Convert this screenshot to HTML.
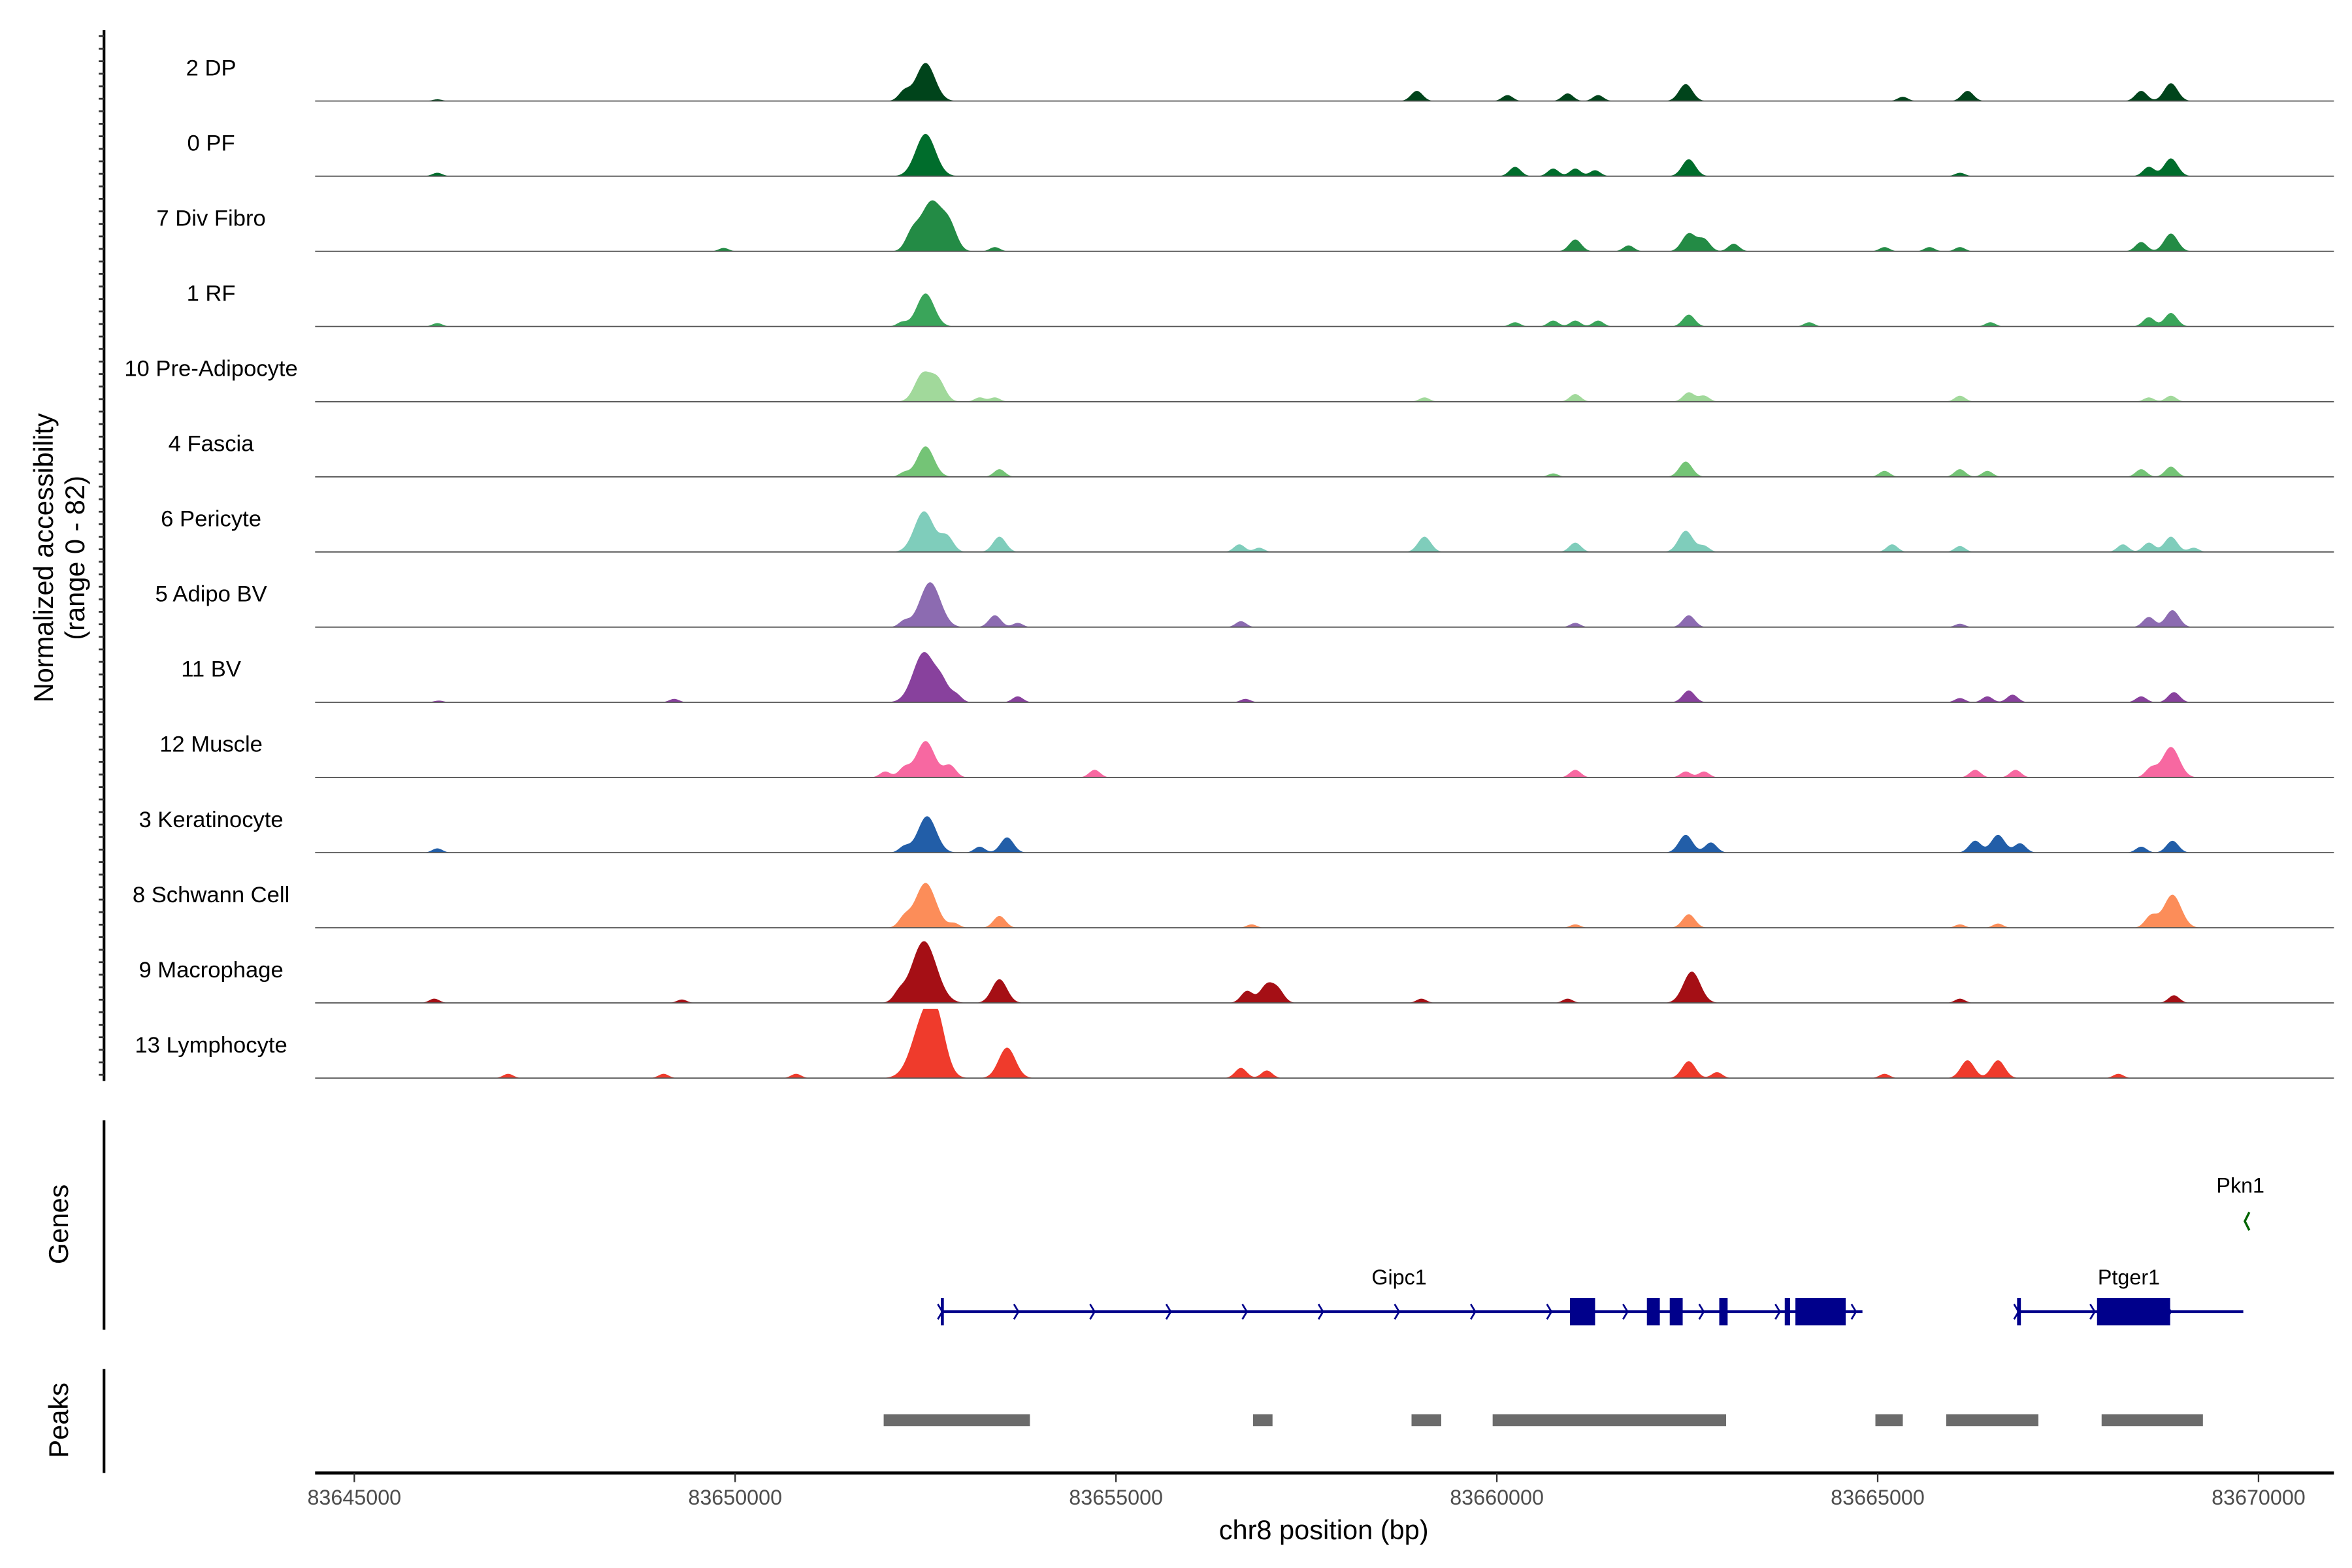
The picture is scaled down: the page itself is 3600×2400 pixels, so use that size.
<!DOCTYPE html>
<html><head><meta charset="utf-8"><style>
html,body{margin:0;padding:0;background:#fff;overflow:hidden}
svg{display:block;font-family:"Liberation Sans",Arial,sans-serif}
</style></head><body>
<svg id="chart" width="3600" height="2400" viewBox="0 0 1560 1040" xmlns="http://www.w3.org/2000/svg">
<rect width="1560" height="1040" fill="#fff"/>
<g id="tracks"></g>
<g id="genes"></g>
<g id="peaks"></g>
<g id="axes"></g>
</svg>
<script>
const trackNames = ["2 DP","0 PF","7 Div Fibro","1 RF","10 Pre-Adipocyte","4 Fascia","6 Pericyte","5 Adipo BV","11 BV","12 Muscle","3 Keratinocyte","8 Schwann Cell","9 Macrophage","13 Lymphocyte"];
const trackColors = ["#00441b","#006d2c","#238b45","#3aa55a","#a1d99b","#74c476","#7fcdbb","#8c6bb1","#88419d","#f768a1","#225ea8","#fc8d59","#a50f15","#ef3b2c"];
const pos0 = [83646.09,83652.22,83652.50,83658.95,83660.14,83660.93,83661.33,83662.48,83665.33,83666.18,83668.46,83668.85];
const val0 = [2,11,45,12,7,9,7,20,5,12,12,21];
const pos1 = [83646.09,83652.50,83660.24,83660.74,83661.03,83661.29,83662.52,83666.08,83668.56,83668.85];
const val1 = [4,50,11,9,9,7,20,4,11,21];
const pos2 = [83649.85,83652.32,83652.58,83652.82,83653.41,83661.03,83661.73,83662.52,83662.72,83663.11,83665.09,83665.68,83666.08,83668.46,83668.85];
const val2 = [4,18,59,25,5,14,7,21,14,9,5,5,5,11,21];
const pos3 = [83646.09,83652.19,83652.50,83660.24,83660.74,83661.03,83661.33,83662.52,83664.10,83666.48,83668.56,83668.85];
const val3 = [4,5,39,5,7,7,7,14,5,5,11,16];
const pos4 = [83652.46,83652.66,83653.21,83653.41,83659.05,83661.03,83662.52,83662.72,83666.08,83668.56,83668.85];
const val4 = [32,25,5,5,5,9,11,7,7,5,7];
const pos5 = [83652.22,83652.50,83653.47,83660.74,83662.48,83665.09,83666.08,83666.44,83668.46,83668.85];
const val5 = [5,36,9,4,18,7,9,7,9,12];
const pos6 = [83652.48,83652.78,83653.47,83656.62,83656.88,83659.05,83661.03,83662.48,83662.72,83665.19,83666.08,83668.22,83668.56,83668.85,83669.15];
const val6 = [48,18,18,9,5,18,11,25,7,9,7,9,11,18,5];
const pos7 = [83652.22,83652.56,83653.41,83653.71,83656.64,83661.03,83662.52,83666.08,83668.56,83668.87];
const val7 = [7,53,14,5,7,5,14,4,12,20];
const pos8 = [83646.11,83649.20,83652.48,83652.72,83652.90,83653.71,83656.70,83662.52,83666.08,83666.44,83666.77,83668.46,83668.89];
const val8 = [2,4,59,18,9,7,4,14,5,7,9,7,12];
const pos9 = [83651.97,83652.22,83652.50,83652.82,83654.72,83661.03,83662.48,83662.72,83666.28,83666.81,83668.59,83668.85];
const val9 = [7,11,43,14,9,9,7,7,9,9,11,36];
const pos10 = [83646.09,83652.22,83652.52,83653.21,83653.57,83662.48,83662.81,83666.28,83666.58,83666.87,83668.46,83668.87];
const val10 = [5,7,43,7,18,21,12,14,21,11,7,14];
const pos11 = [83652.22,83652.50,83652.88,83653.47,83656.78,83661.03,83662.52,83666.08,83666.58,83668.59,83668.87];
const val11 = [11,53,5,14,4,4,16,4,5,14,39];
const pos12 = [83646.05,83649.30,83652.15,83652.48,83653.47,83656.72,83656.98,83657.13,83659.01,83660.93,83662.56,83666.08,83668.89];
const val12 = [5,4,9,73,28,14,21,14,5,5,37,5,9];
const pos13 = [83647.02,83649.06,83650.80,83652.50,83652.66,83653.57,83656.64,83656.98,83662.52,83662.89,83665.09,83666.18,83666.58,83668.16];
const val13 = [5,5,5,75,36,36,12,9,20,7,5,21,21,5];
const trackPos = [pos0,pos1,pos2,pos3,pos4,pos5,pos6,pos7,pos8,pos9,pos10,pos11,pos12,pos13];
const trackVal = [val0,val1,val2,val3,val4,val5,val6,val7,val8,val9,val10,val11,val12,val13];

const xTicks = [83645000,83650000,83655000,83660000,83665000,83670000];
const xTickLabels = ["83645000","83650000","83655000","83660000","83665000","83670000"];

const peakStarts = [83651950,83656800,83658880,83659945,83664970,83665900,83667940];
const peakEnds   = [83653870,83657055,83659270,83663010,83665330,83667110,83669270];

const geneNames = ["Gipc1","Ptger1"];
const geneStarts = [83652700,83666830];
const geneEnds = [83664800,83669800];
const exonStarts = [83652700,83660960,83661970,83662270,83662920,83663780,83663920,83666830,83667880];
const exonEnds   = [83652740,83661290,83662140,83662440,83663030,83663850,83664580,83666880,83668840];
const pknPos = 83669840;

const NS = "http://www.w3.org/2000/svg";
function mk(tag, attrs, parent){const e=document.createElementNS(NS,tag);for(const k in attrs)e.setAttribute(k,attrs[k]);parent.appendChild(e);return e;}
const X0=209, X1=1548;
function xs(bp){return 235 + (bp-83645000)*(1498-235)/25000;}
function ysc(v){return Math.min(v,82)*46/82;}
const TOP=67, STEP=49.85;

const gT=document.getElementById('tracks');
for(let t=0;t<trackNames.length;t++){
  const base=TOP+t*STEP;
  const g=mk('g',{},gT);
  
  
  const P=trackPos[t], V=trackVal[t];
  let d='M'+X0+','+base;
  for(let sx=X0; sx<=X1; sx+=0.5){
    let m=0;
    for(let i=0;i<P.length;i++){
      const c=xs(P[i]*1000); const s=(0.06+0.0014*V[i])*1000*(1263/25000);
      const dx=(sx-c)/s; if(Math.abs(dx)>4) continue;
      m+=V[i]*Math.exp(-0.5*dx*dx);
    }
    d+=' L'+sx+','+(base-ysc(m)).toFixed(2);
  }
  d+=' L'+X1+','+base+' Z';
  const a=mk('path',{d:d,fill:trackColors[t]},g);
  
  
  const bl=mk('line',{x1:X0,x2:X1,y1:base,y2:base,stroke:'#555','stroke-width':0.8},g);
  
  
  const lb=mk('text',{x:140,y:base-17,'text-anchor':'middle','font-size':15,fill:'#000'},g);
  lb.textContent=trackNames[t];
  
  
}

const gA=document.getElementById('axes');
const ax=mk('line',{x1:69,x2:69,y1:20,y2:717,stroke:'#000','stroke-width':1.8},gA);


for(let y=24;y<=717;y+=8.3){
  const tk=mk('line',{x1:65.5,x2:69,y1:y,y2:y,stroke:'#333','stroke-width':1.2},gA);
  
  
}
const yt=mk('text',{transform:'translate(35,370) rotate(-90)','text-anchor':'middle','font-size':18},gA);
yt.textContent='Normalized accessibility';


const yt2=mk('text',{transform:'translate(56,370) rotate(-90)','text-anchor':'middle','font-size':18},gA);
yt2.textContent='(range 0 - 82)';



const gl=mk('line',{x1:69,x2:69,y1:743,y2:882,stroke:'#000','stroke-width':1.8},gA);


const gtt=mk('text',{transform:'translate(45,812) rotate(-90)','text-anchor':'middle','font-size':18},gA);
gtt.textContent='Genes';


const pl=mk('line',{x1:69,x2:69,y1:908,y2:977,stroke:'#000','stroke-width':1.8},gA);


const ptt=mk('text',{transform:'translate(45,942) rotate(-90)','text-anchor':'middle','font-size':18},gA);
ptt.textContent='Peaks';



const xl=mk('line',{x1:X0,x2:X1,y1:977,y2:977,stroke:'#000','stroke-width':2},gA);


for(let i=0;i<xTicks.length;i++){
  const x=xs(xTicks[i]);
  const tk=mk('line',{x1:x,x2:x,y1:977,y2:983,stroke:'#333','stroke-width':1},gA);
  
  
  const tl=mk('text',{x:x,y:998,'text-anchor':'middle','font-size':14,fill:'#4d4d4d'},gA);
  tl.textContent=xTickLabels[i];
  
  
}
const xt=mk('text',{x:878,y:1021,'text-anchor':'middle','font-size':18},gA);
xt.textContent='chr8 position (bp)';



const gP=document.getElementById('peaks');
for(let i=0;i<peakStarts.length;i++){
  const r=mk('rect',{x:xs(peakStarts[i]),y:938,width:xs(peakEnds[i])-xs(peakStarts[i]),height:8,fill:'#6b6b6b'},gP);
  
  
}

const gG=document.getElementById('genes');
const GY=870, NAVY='#00008b';
for(let i=0;i<geneNames.length;i++){
  const g=mk('g',{},gG);
  
  
  const gx1=xs(geneStarts[i]), gx2=xs(geneEnds[i]);
  mk('line',{x1:gx1,x2:gx2,y1:GY,y2:GY,stroke:NAVY,'stroke-width':2},g);
  for(let cx=gx1; cx<=gx2+1; cx+=50.5){
    mk('path',{d:'M'+(cx-2)+','+(GY-5)+' L'+(cx+1)+','+GY+' L'+(cx-2)+','+(GY+5),fill:'none',stroke:NAVY,'stroke-width':1.2},g);
  }
  const lb=mk('text',{x:(i===0?928:1412),y:852,'text-anchor':'middle','font-size':14},g);
  lb.textContent=geneNames[i];
  
  
}
for(let i=0;i<exonStarts.length;i++){
  const a=xs(exonStarts[i]), b=xs(exonEnds[i]);
  const r=mk('rect',{x:a,y:861,width:Math.max(1.5,b-a),height:18,fill:NAVY},gG);
  
  
}
const pk=mk('g',{},gG);


const pkx=xs(pknPos);
mk('path',{d:'M'+(pkx+2)+',804 L'+(pkx-1)+',810 L'+(pkx+2)+',816',fill:'none',stroke:'#006400','stroke-width':1.5},pk);
const pt=mk('text',{x:1486,y:791,'text-anchor':'middle','font-size':14},pk);
pt.textContent='Pkn1';


</script>
</body></html>
